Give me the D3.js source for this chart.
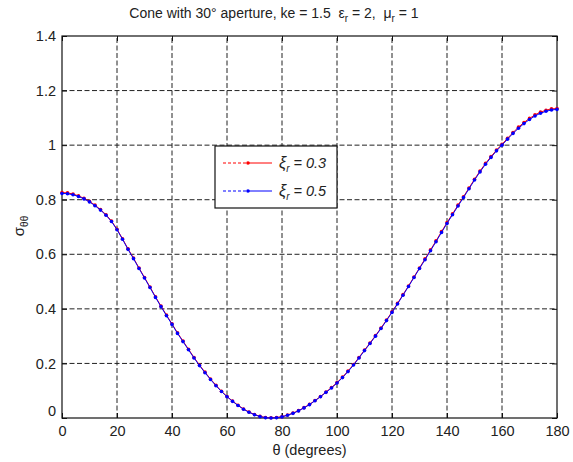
<!DOCTYPE html>
<html><head><meta charset="utf-8">
<script src="https://cdn.jsdelivr.net/npm/d3@7"></script>
<style>body{margin:0;background:#fff}svg{display:block}text{font-family:"Liberation Sans",Arial,sans-serif}</style>
</head><body><div id="chart"></div>
<script>
const thetaStart = 0, thetaStep = 2;
const sigmaBlue = [0.823,0.822,0.818,0.812,0.803,0.792,0.778,0.762,0.743,0.720,0.690,0.655,0.618,0.584,0.548,0.513,0.478,0.442,0.408,0.375,0.343,0.310,0.280,0.250,0.220,0.192,0.166,0.141,0.118,0.097,0.078,0.061,0.046,0.032,0.021,0.012,0.005,0.001,0.000,0.001,0.004,0.010,0.017,0.026,0.037,0.049,0.063,0.078,0.094,0.110,0.128,0.148,0.170,0.194,0.220,0.247,0.273,0.300,0.328,0.357,0.387,0.418,0.450,0.482,0.515,0.548,0.580,0.613,0.646,0.680,0.713,0.745,0.777,0.808,0.840,0.872,0.902,0.930,0.955,0.979,1.000,1.022,1.043,1.062,1.079,1.094,1.107,1.117,1.124,1.129,1.131];
const sigmaRed = [0.826,0.825,0.821,0.814,0.805,0.794,0.780,0.764,0.745,0.722,0.692,0.657,0.620,0.586,0.550,0.515,0.480,0.444,0.410,0.377,0.345,0.312,0.282,0.252,0.222,0.194,0.168,0.143,0.120,0.098,0.079,0.062,0.047,0.033,0.022,0.013,0.006,0.002,0.001,0.002,0.005,0.011,0.018,0.027,0.038,0.050,0.064,0.079,0.095,0.112,0.130,0.150,0.172,0.196,0.222,0.249,0.275,0.302,0.330,0.359,0.389,0.420,0.452,0.484,0.517,0.550,0.583,0.616,0.649,0.683,0.716,0.748,0.780,0.811,0.843,0.875,0.905,0.933,0.958,0.982,1.003,1.025,1.046,1.066,1.083,1.098,1.111,1.121,1.128,1.133,1.134];
const xTicks = [0,20,40,60,80,100,120,140,160,180];
const yTicks = [0,0.2,0.4,0.6,0.8,1,1.2,1.4];
const legendLabels = ["0.3","0.5"];
const seriesColors = ["#ff0000","#0000ff"];

const W = 573, H = 462;
const m = {left:62, right:16, top:36, bottom:44};
const svg = d3.select("#chart").append("svg").attr("width",W).attr("height",H);
const x = d3.scaleLinear().domain([0,180]).range([m.left, W-m.right]);
const y = d3.scaleLinear().domain([0,1.4]).range([H-m.bottom, m.top]);
const x0 = x.range()[0], x1 = x.range()[1], y0 = y.range()[0], y1 = y.range()[1];

// grid
const grid = svg.append("g").attr("stroke","#222").attr("stroke-width",1).attr("stroke-dasharray","5,2.5");
xTicks.slice(1,-1).forEach(t=>grid.append("line").attr("x1",x(t)).attr("x2",x(t)).attr("y1",y0).attr("y2",y1));
yTicks.slice(1,-1).forEach(t=>grid.append("line").attr("x1",x0).attr("x2",x1).attr("y1",y(t)).attr("y2",y(t)));

// axes with inward ticks
const fmt = d=> d3.format("")(+d.toFixed(1));
const axB = svg.append("g").attr("transform",`translate(0,${y0})`).call(d3.axisBottom(x).tickValues(xTicks).tickSizeInner(-5).tickSizeOuter(0).tickPadding(8).tickFormat(fmt));
const axT = svg.append("g").attr("transform",`translate(0,${y1})`).call(d3.axisTop(x).tickValues(xTicks).tickSizeInner(-5).tickSizeOuter(0).tickFormat(""));
const axL = svg.append("g").attr("transform",`translate(${x0},0)`).call(d3.axisLeft(y).tickValues(yTicks).tickSizeInner(-5).tickSizeOuter(0).tickPadding(6).tickFormat(fmt));
const axR = svg.append("g").attr("transform",`translate(${x1},0)`).call(d3.axisRight(y).tickValues(yTicks).tickSizeInner(-5).tickSizeOuter(0).tickFormat(""));
[axB,axT,axL,axR].forEach(a=>{a.selectAll("path").remove();a.selectAll("line").attr("stroke","#111");a.selectAll("text").attr("fill","#222").style("font-size","14.5px").style("font-family","'Liberation Sans',Arial,sans-serif");});
axL.selectAll(".tick").filter(d=>d===0).select("text").attr("dy","-0.2em");
svg.append("rect").attr("x",x0).attr("y",y1).attr("width",x1-x0).attr("height",y0-y1).attr("fill","none").attr("stroke","#111").attr("stroke-width",1.2);

// series
const mk = vals => vals.map((v,i)=>({t:thetaStart+i*thetaStep, v}));
const line = d3.line().x(d=>x(d.t)).y(d=>y(d.v));
[sigmaRed, sigmaBlue].forEach((vals,k)=>{
  const data = mk(vals);
  svg.append("path").datum(data).attr("d",line).attr("fill","none").attr("stroke",seriesColors[k]).attr("stroke-width",1);
  svg.append("g").selectAll("circle").data(data).join("circle").attr("cx",d=>x(d.t)).attr("cy",d=>y(d.v)).attr("r",1.8).attr("fill",seriesColors[k]);
});

// legend
const lg = svg.append("g");
lg.append("rect").attr("x",215).attr("y",146).attr("width",122).attr("height",62).attr("fill","#fff").attr("stroke","#111").attr("stroke-width",1.2);
legendLabels.forEach((lab,k)=>{
  const yy = 163 + k*28;
  lg.append("line").attr("x1",223).attr("x2",248).attr("y1",yy).attr("y2",yy).attr("stroke",seriesColors[k]).attr("stroke-dasharray","3,2");
  lg.append("line").attr("x1",248).attr("x2",272).attr("y1",yy).attr("y2",yy).attr("stroke",seriesColors[k]);
  lg.append("circle").attr("cx",248).attr("cy",yy).attr("r",1.8).attr("fill",seriesColors[k]);
  const t = lg.append("text").attr("x",279).attr("y",yy+5).attr("fill","#222").style("font-size","14.5px").style("font-style","italic");
  t.append("tspan").style("font-size","16px").text("ξ");
  t.append("tspan").attr("dy",4).style("font-size","10px").text("r");
  t.append("tspan").attr("dy",-4).text(" = "+lab);
});

// title
const tt = svg.append("text").attr("x",274).attr("y",18).attr("text-anchor","middle").attr("fill","#222").style("font-size","14px").style("white-space","pre");
tt.append("tspan").text("Cone with 30° aperture, ke = 1.5  ε");
tt.append("tspan").attr("dy",4).style("font-size","10px").text("r");
tt.append("tspan").attr("dy",-4).text(" = 2,  μ");
tt.append("tspan").attr("dy",4).style("font-size","10px").text("r");
tt.append("tspan").attr("dy",-4).text(" = 1");

// axis labels
svg.append("text").attr("x",(x0+x1)/2).attr("y",455).attr("text-anchor","middle").attr("fill","#222").style("font-size","14.5px").text("θ (degrees)");
const yl = svg.append("text").attr("transform","translate(24,226) rotate(-90)").attr("text-anchor","middle").attr("fill","#222").style("font-size","15px");
yl.append("tspan").text("σ");
yl.append("tspan").attr("dy",4).style("font-size","10px").text("θθ");
</script></body></html>
